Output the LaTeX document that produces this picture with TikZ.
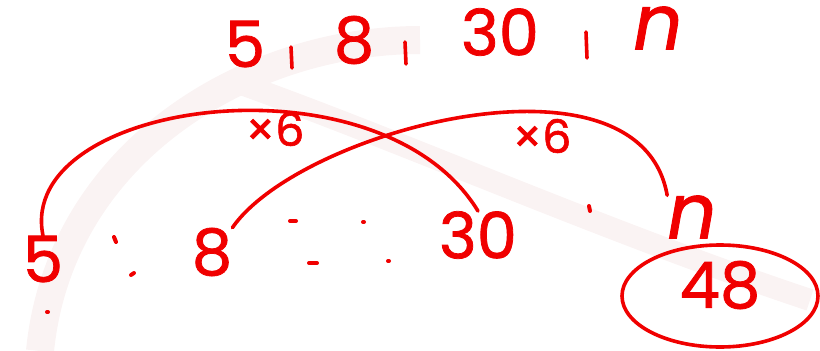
\documentclass[tikz,border=0pt]{standalone}
\usepackage{fontspec}
\setmainfont{Poppins}[FakeBold=1.2]
\definecolor{ink}{RGB}{240,0,0}
\definecolor{wm}{RGB}{250,243,243}
\begin{document}
\begin{tikzpicture}[x=1pt,y=-1pt,
  hand/.style={text=ink,font=\fontsize{64}{64}\selectfont,inner sep=0pt},
  small/.style={text=ink,font=\fontsize{46}{46}\selectfont,inner sep=0pt},
  stroke/.style={draw=ink,line width=3.6pt,line cap=round},
  dotmark/.style={draw=ink,line width=4pt,line cap=round}]
\useasboundingbox (0,0) rectangle (820,351);
% faint watermark
\draw[wm,line width=28pt] (40,351) .. controls (60,150) and (250,40) .. (420,40);
\draw[wm,line width=22pt] (230,80) .. controls (400,140) and (600,230) .. (810,300);
% top row
\node[hand] (t5) at (245,44) {5};
\node[hand] (t8) at (354,40) {8};
\node[hand] (t30) at (500,32) {30};
\node[hand,scale=1.2] (tn) at (658,28) {\itshape n};
\draw[stroke] (291,47) -- (292,68);
\draw[stroke] (405,42) -- (406,64);
\draw[stroke] (586,32) -- (587,58);
% bottom row
\node[hand] (b5) at (43,259) {5};
\node[hand] (b8) at (212,252) {8};
\node[hand] (b30) at (478,235) {30};
\node[hand,scale=1.2] (bn) at (692,217) {\itshape n};
\node[hand] (b48) at (720,285) {48};
\draw[stroke] (720,296) ellipse [x radius=98,y radius=51];
% colon marks
\draw[dotmark] (114,237) -- (116,242);
\draw[dotmark] (131,275) -- (134,273);
\draw[dotmark] (290,221) -- (296,221);
\draw[dotmark] (363,222) -- (364,222);
\draw[dotmark] (309,263) -- (317,263);
\draw[dotmark] (388,261) -- (389,261);
\draw[dotmark] (589,206) -- (590,211);
\draw[dotmark] (47,312) -- (48,312);
% arcs
\draw[stroke] (b5.north) .. controls (15,100) and (380,50) .. (b30.north);
\draw[stroke] (b8.north east) .. controls (300,130) and (640,40) .. (bn.north west);
\node[small] (l1) at (275,129) {×6};
\node[small] (l2) at (542,136) {×6};
\end{tikzpicture}
\end{document}
